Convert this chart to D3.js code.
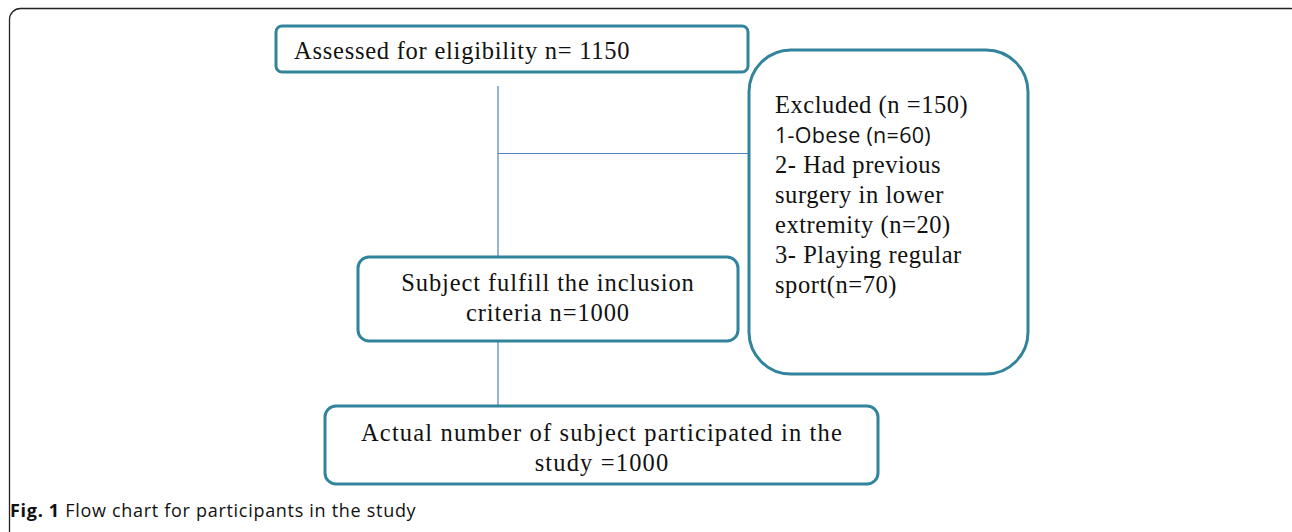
<!DOCTYPE html>
<html>
<head>
    <title>Flow chart for participants in the study</title>
    <script src="https://d3js.org/d3.v7.min.js"></script>
    <style>
        body { margin: 0; background: #fff; }
        .box { fill: #fff; stroke: #31849b; stroke-width: 3; }
        .link { stroke: #4f81bd; stroke-width: 1.2; fill: none; }
        .serif { font-family: "Liberation Serif", "DejaVu Serif", serif; fill: #111; }
        .sans { font-family: "Open Sans", "Noto Sans", sans-serif; fill: #111; }
    </style>
</head>
<body>
    <div class="chart"></div>
    <script>
        // Flow chart text
        const assessedLines = ["Assessed for eligibility n= 1150"];
        const excludedLines = [
            "Excluded (n =150)",
            "1-Obese (n=60)",
            "2- Had previous",
            "surgery in lower",
            "extremity (n=20)",
            "3- Playing regular",
            "sport(n=70)"
        ];
        const includedLines = ["Subject fulfill the inclusion", "criteria n=1000"];
        const actualLines = ["Actual number of subject participated in the", "study =1000"];
        const captionBold = "Fig. 1";
        const captionText = " Flow chart for participants in the study";

        const width = 1292, height = 532;

        // Layout of the nodes (pixel positions)
        const nodes = [
            {id: "assessed", lines: assessedLines, x: 276, y: 26, w: 472, h: 46, r: 6, align: "start", tx: 294, ty: 59, ls: 0.75},
            {id: "excluded", lines: excludedLines, x: 749, y: 50, w: 279, h: 324, r: 42, align: "start", tx: 775, ty: 113, ls: 0.55},
            {id: "included", lines: includedLines, x: 358, y: 257, w: 380, h: 84, r: 11, align: "middle", tx: 548, ty: 291, ls: 0.9},
            {id: "actual", lines: actualLines, x: 325, y: 406, w: 553, h: 78, r: 11, align: "middle", tx: 602, ty: 441, ls: 1.15}
        ];
        const lineGap = 30;

        const svg = d3.select(".chart")
            .append("svg")
            .attr("width", width)
            .attr("height", height);

        // Outer figure frame
        svg.append("rect")
            .attr("x", 9.5)
            .attr("y", 8.5)
            .attr("width", 1292)
            .attr("height", 540)
            .attr("rx", 11)
            .attr("fill", "none")
            .attr("stroke", "#222")
            .attr("stroke-width", 1.3);

        // Connectors
        const links = [
            [[498, 86], [498, 257]],
            [[498, 153.5], [749, 153.5]],
            [[498, 341], [498, 406]]
        ];
        svg.selectAll(".link")
            .data(links)
            .enter()
            .append("path")
            .attr("class", "link")
            .attr("d", d => d3.line()(d));

        // Boxes
        const g = svg.selectAll(".node")
            .data(nodes)
            .enter()
            .append("g")
            .attr("class", "node");

        g.append("rect")
            .attr("class", "box")
            .attr("x", d => d.x)
            .attr("y", d => d.y)
            .attr("width", d => d.w)
            .attr("height", d => d.h)
            .attr("rx", d => d.r);

        g.each(function(d) {
            d3.select(this).selectAll("text")
                .data(d.lines)
                .enter()
                .append("text")
                .attr("class", (t, i) => d.id === "excluded" && i === 1 ? "sans" : "serif")
                .attr("x", d.tx)
                .attr("y", (t, i) => d.ty + i * lineGap)
                .attr("text-anchor", d.align)
                .attr("font-size", (t, i) => d.id === "excluded" && i === 1 ? 21.5 : 24.5)
                .attr("letter-spacing", (t, i) => d.id === "excluded" && i === 1 ? 0.3 : d.ls)
                .text(t => t);
        });

        // Caption
        const cap = svg.append("text")
            .attr("class", "sans")
            .attr("x", 10)
            .attr("y", 517)
            .attr("font-size", 18)
            .attr("letter-spacing", 0.7);
        cap.append("tspan").attr("font-weight", "bold").text(captionBold);
        cap.append("tspan").text(captionText);
    </script>
</body>
</html>
